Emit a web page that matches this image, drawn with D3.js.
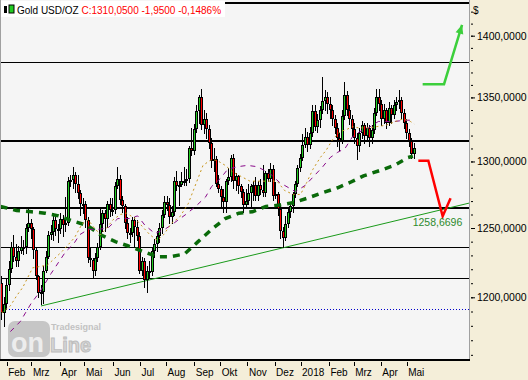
<!DOCTYPE html>
<html>
<head>
<meta charset="utf-8">
<script src="https://cdn.jsdelivr.net/npm/d3@7"></script>
<style>
html, body { margin: 0; padding: 0; background: #f4eed9; }
svg { display: block; font-family: "Liberation Sans", Arial, sans-serif; }
</style>
</head>
<body>
<svg id="chart" width="528" height="380"></svg>
<script>
// Gold USD/OZ, one candle = 2 trading days, first day 25.01.2017 (index 0)
var candles = [
[1210,1215,1185,1189],[1189,1200,1180,1195],[1195,1214,1192,1209],[1209,1226,1205,1220],
[1220,1240,1218,1236],[1236,1245,1226,1229],[1229,1238,1222,1226],[1226,1237,1222,1233],
[1233,1244,1232,1236],[1236,1241,1231,1236],[1236,1253,1232,1250],[1250,1264,1248,1254],
[1254,1257,1243,1249],[1249,1251,1228,1234],[1234,1236,1213,1215],[1215,1216,1200,1203],
[1203,1209,1195,1204],[1204,1222,1196,1219],[1219,1233,1218,1229],[1229,1248,1228,1245],
[1245,1252,1242,1247],[1247,1261,1241,1256],[1256,1258,1245,1249],[1249,1253,1240,1249],
[1249,1261,1246,1257],[1257,1260,1244,1252],[1252,1273,1248,1254],[1254,1288,1252,1285],
[1285,1290,1281,1286],[1286,1296,1280,1290],[1290,1292,1277,1283],[1283,1290,1272,1276],
[1276,1278,1260,1268],[1268,1272,1261,1268],[1268,1270,1251,1256],[1256,1258,1225,1228],
[1228,1236,1222,1227],[1227,1228,1214,1219],[1219,1232,1216,1228],[1228,1239,1226,1236],
[1236,1264,1235,1253],[1253,1263,1248,1261],[1261,1263,1248,1257],[1257,1270,1251,1268],
[1268,1272,1259,1263],[1263,1272,1260,1263],[1263,1284,1261,1281],[1281,1296,1280,1287],
[1287,1290,1268,1271],[1271,1274,1262,1266],[1266,1268,1250,1254],[1254,1258,1243,1246],
[1246,1250,1240,1246],[1246,1258,1244,1256],[1256,1258,1237,1251],[1251,1256,1241,1244],
[1244,1247,1217,1219],[1219,1229,1216,1226],[1226,1228,1207,1212],[1212,1222,1204,1219],
[1219,1226,1214,1218],[1218,1236,1216,1233],[1233,1242,1229,1238],[1238,1248,1233,1244],
[1244,1254,1240,1250],[1250,1263,1246,1260],[1260,1274,1258,1269],[1269,1274,1263,1267],
[1267,1272,1254,1258],[1258,1266,1254,1262],[1262,1288,1260,1285],[1285,1293,1278,1281],
[1281,1285,1267,1282],[1282,1292,1281,1285],[1285,1296,1282,1285],[1285,1294,1282,1287],
[1287,1312,1284,1310],[1310,1326,1305,1308],[1308,1329,1306,1325],[1325,1344,1323,1339],
[1339,1352,1330,1350],[1350,1357,1325,1328],[1328,1340,1322,1333],[1333,1338,1318,1325],
[1325,1328,1310,1314],[1314,1318,1296,1300],[1300,1310,1293,1302],[1302,1304,1281,1283],
[1283,1290,1277,1279],[1279,1281,1266,1273],[1273,1279,1262,1269],[1269,1287,1262,1285],
[1285,1295,1283,1288],[1288,1305,1285,1303],[1303,1306,1280,1285],[1285,1291,1278,1289],
[1289,1290,1276,1281],[1281,1283,1273,1277],[1277,1279,1262,1267],[1267,1279,1266,1270],
[1270,1283,1268,1276],[1276,1283,1265,1281],[1281,1285,1271,1282],[1282,1288,1271,1274],
[1274,1285,1271,1282],[1282,1287,1275,1278],[1278,1297,1274,1276],[1276,1293,1274,1291],
[1291,1294,1285,1287],[1287,1299,1285,1294],[1294,1297,1271,1274],[1274,1284,1272,1275],
[1275,1277,1260,1264],[1264,1266,1243,1248],[1248,1251,1236,1243],[1243,1259,1241,1253],
[1253,1264,1251,1262],[1262,1268,1258,1266],[1266,1277,1262,1275],[1275,1285,1273,1283],
[1283,1297,1281,1295],[1295,1306,1293,1303],[1303,1321,1301,1313],[1313,1326,1311,1319],
[1319,1323,1308,1313],[1313,1327,1310,1322],[1322,1344,1320,1339],[1339,1344,1324,1327],
[1327,1337,1323,1332],[1332,1343,1327,1340],[1340,1366,1338,1347],[1347,1356,1340,1350],
[1350,1354,1338,1345],[1345,1350,1334,1340],[1340,1344,1328,1333],[1333,1336,1322,1326],
[1326,1330,1312,1318],[1318,1322,1309,1316],[1316,1340,1314,1335],[1335,1362,1333,1352],
[1352,1355,1336,1340],[1340,1344,1329,1333],[1333,1336,1320,1325],[1325,1330,1314,1318],
[1318,1322,1302,1312],[1312,1326,1308,1322],[1322,1331,1318,1328],[1328,1330,1314,1320],
[1320,1330,1316,1326],[1326,1328,1312,1318],[1318,1328,1314,1324],[1324,1342,1322,1338],
[1338,1357,1336,1350],[1350,1357,1340,1345],[1345,1348,1328,1333],[1333,1345,1330,1340],
[1340,1342,1326,1330],[1330,1346,1328,1342],[1342,1344,1330,1336],[1336,1348,1334,1344],
[1344,1350,1340,1346],[1346,1356,1342,1348],[1348,1350,1334,1338],[1338,1341,1326,1330],
[1330,1333,1318,1322],[1322,1325,1312,1316],[1316,1318,1303,1306],[1306,1314,1303,1310.05]
];

// moving averages: [day index, price]
var maFast = [[1,1189],[8,1194],[13,1201],[18,1207],[22,1214],[26,1221],[32,1222],[38,1223],
[44,1228],[50,1233],[55,1238],[60,1243],[66,1253],[71,1256],[76,1250],[81,1245],[86,1250],
[91,1256],[97,1260],[102,1261],[109,1257],[115,1251],[121,1245],[127,1241],[132,1245],
[139,1254],[145,1258],[152,1268],[157,1280],[164,1297],[170,1301],[175,1301],[182,1297],
[188,1292],[194,1289],[202,1285],[210,1285],[218,1285],[224,1285],[230,1278],[237,1275],
[243,1275],[248,1284],[253,1294],[259,1303],[264,1309],[269,1317],[275,1323],[281,1325],
[285,1327],[290,1326],[298,1326],[305,1327],[312,1328],[320,1331],[326,1333],[332,1331],[335,1329]];
var maMid = [[8,1176],[16,1183],[25,1196],[32,1204],[41,1217],[47,1225],[53,1233],[59,1238],
[64,1245],[71,1249],[79,1249],[87,1250],[95,1257],[105,1257],[111,1259],[117,1252],[125,1246],
[133,1249],[141,1254],[150,1260],[158,1266],[166,1273],[171,1281],[178,1287],[184,1294],
[192,1296],[200,1297],[208,1296],[218,1291],[226,1284],[239,1277],[247,1282],[255,1290],
[261,1296],[267,1303],[273,1307],[279,1310],[285,1319],[291,1323],[298,1326],[306,1331],
[312,1331],[319,1331],[328,1332],[333,1332]];
var maSlow = [[0,1266],[13,1263],[25,1262],[36,1261],[47,1259],[59,1255],[70,1252],[81,1245],
[93,1240],[103,1237],[115,1233],[127,1229],[137,1229],[149,1231],[160,1240],[171,1249],
[182,1257],[193,1261],[204,1262],[215,1266],[226,1267],[238,1269],[248,1272],[260,1276],
[273,1280],[283,1284],[294,1289],[307,1293],[319,1297],[330,1303],[334,1304]];

var monthDays = [5,25,48,68,91,113,134,157,178,200,222,243,266,286,308,329];
var monthLabels = ["Feb","Mrz","Apr","Mai","Jun","Jul","Aug","Sep","Okt","Nov","Dez","2018","Feb","Mrz","Apr","Mai"];
var priceLabels = [1200,1250,1300,1350,1400];
var priceMinor = d3.range(1160, 1430, 10);

// horizontal levels [price, line width]
var levels = [[1427,2],[1378.2,1],[1315.8,2],[1265.1,2],[1235.9,1],[1213.5,1]];
var dottedLevel = 1191.5;
var trendLine = [[32.8,1193.9],[380,1268.6]];
var redPath = [[338.4,1300.5],[346.5,1300.5],[358.1,1258.6696],[364.5,1272.1]];
var greenPath = [[341.9,1360.6],[359.2,1360.6],[373.8,1409]];
var targetLabel = "1258,6696";

var W = 470, H = 360;
var svg = d3.select("#chart");

var x = d3.scaleLinear().domain([0, 380]).range([0.53, 469.7]);
var y = d3.scaleLog().domain([1200, 1400]).range([297.3, 35.7]);

var fmt = d3.formatLocale({decimal: ",", thousands: ".", grouping: [3], currency: ["", "$"]}).format(".4f");

svg.append("rect").attr("width", 528).attr("height", 380).attr("fill", "#f4eed9");
svg.append("rect").attr("width", W).attr("height", H).attr("fill", "#f5f5f5");

svg.append("clipPath").attr("id", "plot")
  .append("rect").attr("width", W).attr("height", H);

var g = svg.append("g").attr("clip-path", "url(#plot)");

// watermark
var wm = g.append("g");
wm.append("rect").attr("x", 8).attr("y", 321).attr("width", 42).attr("height", 36).attr("rx", 7)
  .attr("fill", "#c6c6c6");
wm.append("text").attr("x", 11).attr("y", 352).attr("font-size", 27).attr("font-weight", "bold")
  .attr("fill", "#ededed").text("on");
wm.append("text").attr("x", 50).attr("y", 352).attr("font-size", 20).attr("font-weight", "bold")
  .attr("fill", "#d6d6d6").attr("stroke", "#bdbdbd").attr("stroke-width", 1).text("Line");
wm.append("text").attr("x", 51).attr("y", 330).attr("font-size", 9).attr("font-weight", "bold")
  .attr("fill", "#c2c2c2").text("Tradesignal");

// level lines
g.selectAll(".lvl").data(levels).enter().append("line")
  .attr("x1", 0).attr("x2", W)
  .attr("y1", function(d) { return Math.round(y(d[0])) + (d[1] % 2 ? 0.5 : 0); })
  .attr("y2", function(d) { return Math.round(y(d[0])) + (d[1] % 2 ? 0.5 : 0); })
  .attr("stroke", "#000").attr("stroke-width", function(d) { return d[1]; });

g.append("line").attr("x1", 0).attr("x2", W)
  .attr("y1", Math.round(y(dottedLevel)) + 0.5).attr("y2", Math.round(y(dottedLevel)) + 0.5)
  .attr("stroke", "#0000cc").attr("stroke-width", 1).attr("stroke-dasharray", "1,2");

// trend line
g.append("line")
  .attr("x1", x(trendLine[0][0])).attr("y1", y(trendLine[0][1]))
  .attr("x2", x(trendLine[1][0])).attr("y2", y(trendLine[1][1]))
  .attr("stroke", "#1a9a1a").attr("stroke-width", 1);

// candles
var cg = g.append("g");
candles.forEach(function(d, k) {
  var cx = Math.round(x(2 * k + 0.5));
  var up = d[3] >= d[0];
  var top = Math.round(y(Math.max(d[0], d[3])));
  var bot = Math.round(y(Math.min(d[0], d[3])));
  cg.append("line").attr("x1", cx + 0.5).attr("x2", cx + 0.5)
    .attr("y1", Math.round(y(d[1]))).attr("y2", Math.round(y(d[2])) + 1)
    .attr("stroke", "#000").attr("stroke-width", 1);
  cg.append("rect").attr("x", cx - 1).attr("y", top).attr("width", 3).attr("height", Math.max(bot - top, 2))
    .attr("fill", "#000");
  if (bot - top > 2) {
    cg.append("rect").attr("x", cx).attr("y", top + 1).attr("width", 1).attr("height", bot - top - 2)
      .attr("fill", up ? "#22cc22" : "#ff0000");
  }
});

var line = d3.line().x(function(d) { return x(d[0]); }).y(function(d) { return y(d[1]); });

g.append("path").datum(maSlow).attr("d", line).attr("fill", "none")
  .attr("stroke", "#0a6a0a").attr("stroke-width", 3.5).attr("stroke-dasharray", "7,6");
g.append("path").datum(maMid).attr("d", line).attr("fill", "none")
  .attr("stroke", "#8a0a8a").attr("stroke-width", 1).attr("stroke-dasharray", "5,5");
g.append("path").datum(maFast).attr("d", line).attr("fill", "none")
  .attr("stroke", "#c8961e").attr("stroke-width", 1).attr("stroke-dasharray", "2,3");

// forecast paths
g.append("path").datum(redPath).attr("d", line).attr("fill", "none")
  .attr("stroke", "#ff0000").attr("stroke-width", 2.5);
g.append("path").datum(greenPath).attr("d", line).attr("fill", "none")
  .attr("stroke", "#3ccf3c").attr("stroke-width", 2.5);

// arrow head at the end of the green path
var p1 = greenPath[greenPath.length - 2], p2 = greenPath[greenPath.length - 1];
var ang = Math.atan2(y(p2[1]) - y(p1[1]), x(p2[0]) - x(p1[0])) * 180 / Math.PI;
g.append("path").attr("d", "M0,0L-9,-4L-9,4Z").attr("fill", "#3ccf3c")
  .attr("transform", "translate(" + x(p2[0]) + "," + y(p2[1]) + ") rotate(" + ang + ")");

g.append("text").attr("x", x(redPath[2][0]) - 30).attr("y", y(redPath[2][1]) + 10)
  .attr("font-size", 10.5).attr("fill", "#2d8a2d").text(targetLabel);

// title box
var tt = svg.append("g");
tt.append("rect").attr("x", 1).attr("y", 1).attr("width", 224).attr("height", 16).attr("fill", "#fff");
tt.append("rect").attr("x", 4).attr("y", 6).attr("width", 3).attr("height", 7).attr("fill", "#000");
tt.append("rect").attr("x", 9).attr("y", 5).attr("width", 5).attr("height", 8).attr("fill", "#22cc22").attr("stroke", "#000");
var title = tt.append("text").attr("x", 17).attr("y", 14).attr("font-size", 10);
title.append("tspan").attr("fill", "#000").text("Gold USD/OZ ");
title.append("tspan").attr("fill", "#ff0000").text("C:1310,0500 -1,9500 -0,1486%");

// plot frame
svg.append("line").attr("x1", 0.5).attr("x2", 0.5).attr("y1", 0).attr("y2", H).attr("stroke", "#a0a0a0");
svg.append("line").attr("x1", W - 0.5).attr("x2", W - 0.5).attr("y1", 0).attr("y2", H).attr("stroke", "#a0a0a0");
svg.append("line").attr("x1", 0).attr("x2", W).attr("y1", H).attr("y2", H).attr("stroke", "#000").attr("stroke-width", 2);

// right axis
var ax = svg.append("g").attr("transform", "translate(" + (W + 1) + ",0)");
ax.call(d3.axisRight(y).tickValues(priceMinor).tickSize(2).tickFormat(""));
ax.append("g").call(d3.axisRight(y).tickValues(priceLabels).tickSize(4).tickPadding(2).tickFormat(fmt));
ax.selectAll(".domain").remove();
ax.selectAll("text").attr("font-size", 10.5).attr("font-family", "Liberation Sans, Arial, sans-serif").attr("fill", "#000");
ax.append("text").attr("x", 2).attr("y", 14).attr("font-size", 10).attr("fill", "#000").text("$");

// bottom axis
var bx = svg.append("g").attr("transform", "translate(0," + (H + 2) + ")");
bx.selectAll("line").data(monthDays).enter().append("line")
  .attr("x1", function(d) { return Math.round(x(d)) + 0.5; })
  .attr("x2", function(d) { return Math.round(x(d)) + 0.5; })
  .attr("y1", 0).attr("y2", 4).attr("stroke", "#000");
bx.selectAll("text").data(monthDays).enter().append("text")
  .attr("x", function(d) { return x(d) + 1.5; }).attr("y", 14)
  .attr("font-size", 10).attr("fill", "#000")
  .text(function(d, i) { return monthLabels[i]; });
</script>
</body>
</html>
